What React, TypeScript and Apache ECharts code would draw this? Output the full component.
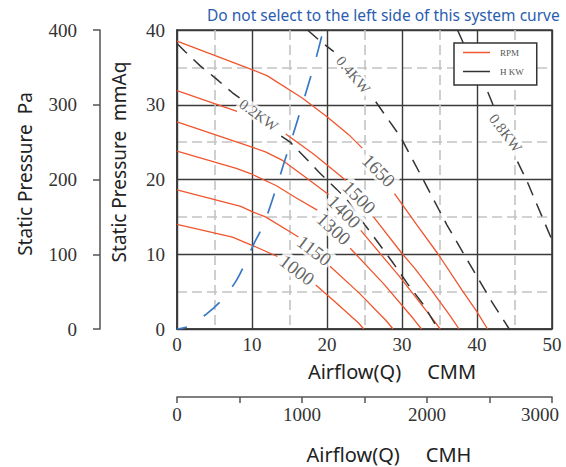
import React, { useEffect, useRef } from "react";
import * as echarts from "echarts";

// ---- data (x: CMM, y: mmAq); null marks a break in the drawn line ----
const rpmNames = ["1650", "1500", "1400", "1300", "1150", "1000"];
const rpm1650 = [[0, 38.5], [10, 34.7], [12, 33.9], [16.7, 30.9], [20, 28.4], [22.9, 26.0], [24.7, 24.2], null, [29.0, 18.1], [32, 13.9], [34.9, 9.9], [38, 5.2], [40, 2.3], [41.4, 0]];
const rpm1500 = [[0, 31.9], [8.0, 29.1], null, [14.5, 26.1], [18.2, 23.4], [22.5, 19.9], null, [26.2, 15.0], [30, 10.1], [31.7, 8.1], [34, 5.1], [36.4, 1.8], [37.6, 0]];
const rpm1400 = [[0, 27.7], [9.8, 24.4], [11.8, 23.7], [14.0, 22.6], [17.0, 20.4], [20.2, 18.0], null, [24.5, 13.2], [29.6, 7.1], [33.9, 1.6], [35.1, 0]];
const rpm1300 = [[0, 23.8], [7.9, 21.5], [9.8, 20.8], [13.2, 19.2], [15.8, 17.6], [18.7, 15.9], null, [23.1, 10.8], [27.5, 6.1], [31.5, 1.4], [32.6, 0]];
const rpm1150 = [[0, 18.6], [8.5, 16.4], [10, 15.7], [11.8, 15.0], [16.2, 12.3], null, [20.4, 8.4], [24.3, 4.8], [27.9, 1.1], [28.8, 0]];
const rpm1000 = [[0, 14.0], [7.4, 12.3], [10, 11.2], [13.4, 9.7], null, [18.5, 5.9], [21.1, 3.6], [24.2, 0.8], [24.9, 0]];
const rpmCurves = [rpm1650, rpm1500, rpm1400, rpm1300, rpm1150, rpm1000];
const rpmLabelAt = [[26.9, 21.2], [24.3, 17.6], [22.3, 15.7], [20.9, 13.4], [18.3, 10.5], [16.0, 7.9]];
const rpmLabelAngle = [-45, -45, -45, -42, -37, -37];

const kwNames = ["0.2KW", "0.4KW", "0.8KW"];
const kw02 = [[0, 38.2], [1.1, 37.1], [3.1, 35.2], [5.2, 33.5], [7.4, 31.6], [8.5, 30.8], null, [13.9, 25.8], [15.1, 25.0], [17.6, 22.4], [18.9, 21.0], [22.5, 17.5], [25.0, 14.0], [28.7, 9.0], [30.7, 6.1], [32.9, 3.2], [34.8, 0]];
const kw04 = [[17.4, 40], [19.0, 38.6], [20.9, 37.1], null, [26.5, 30.4], [29.8, 25.7], [32.5, 20.6], [36.0, 13.9], [39.6, 7.7], [42.0, 3.6], [44.3, 0]];
const kw08 = [[37.4, 40], [38.2, 38.2], [41.4, 31.8], [42.3, 29.6], null, [45.4, 22.4], [46.7, 19.7], [50, 11.9]];
const kwCurves = [kw02, kw04, kw08];
const kwLabelAt = [[10.9, 28.6], [23.5, 34.0], [43.8, 26.2]];
const kwLabelAngle = [-36, -50, -53];

const systemCurve = [[0, 0], [1.4, 0.3], [3.8, 1.9], [6.0, 3.9], [7.8, 6.3], [9.1, 8.8], [10.2, 11.3], [11.6, 14.1], [13.4, 19.4], [14.2, 22.0], [15.1, 24.8], [16.7, 30.0], [18.5, 36.1], [19.6, 40.4]];

const cmmRange = [0, 50];
const mmAqRange = [0, 40];
const cmhRange = [0, 3000];
const paRange = [0, 400];

const titleText = "Do not select to the left side of this system curve";
const xNameCMM = "Airflow(Q)     CMM";
const xNameCMH = "Airflow(Q)     CMH";
const yNamePa = "Static Pressure  Pa";
const yNameMmAq = "Static Pressure  mmAq";

// ---- helpers ----
function segments(pts: (number[] | null)[]) {
  const out: number[][][] = [[]];
  for (const p of pts) {
    if (p === null) out.push([]);
    else out[out.length - 1].push(p);
  }
  return out.filter((s) => s.length > 1);
}

const SERIF = "Liberation Serif";
const SANS = "Noto Sans";
const ORANGE = "#f0552d";
const DARK = "#333333";

export default function App() {
  const ref = useRef<HTMLDivElement>(null);

  useEffect(() => {
    if (!ref.current) return;
    const chart = echarts.init(ref.current, null, { renderer: "svg" });

    const series: any[] = [];
    rpmCurves.forEach((c) => {
      segments(c).forEach((seg) => {
        series.push({
          type: "line", name: "RPM", xAxisIndex: 0, yAxisIndex: 0,
          data: seg, symbol: "none", silent: true, z: 3,
          color: ORANGE,
          lineStyle: { color: ORANGE, width: 1.3 },
        });
      });
    });
    kwCurves.forEach((c) => {
      segments(c).forEach((seg) => {
        series.push({
          type: "line", name: "H KW", xAxisIndex: 0, yAxisIndex: 0,
          data: seg, symbol: "none", silent: true, z: 3,
          color: DARK,
          lineStyle: { color: DARK, width: 1.5, type: [14, 9] },
        });
      });
    });
    series.push({
      type: "line", name: "system", xAxisIndex: 0, yAxisIndex: 0,
      data: systemCurve, symbol: "none", silent: true, z: 3, smooth: 0.3,
      color: "#3a78c6",
      lineStyle: { color: "#3a78c6", width: 1.7, type: [21, 20], dashOffset: 11 },
    });

    const labelStyle = (size: number) => ({
      show: true, position: "inside", fontFamily: SERIF, fontSize: size,
      color: "#3a3a3a", backgroundColor: "#ffffff", padding: [0, 2],
    });
    series.push({
      type: "scatter", name: "rpmLabels", xAxisIndex: 0, yAxisIndex: 0,
      symbolSize: 0.1, silent: true, z: 10,
      itemStyle: { color: "rgba(0,0,0,0)" },
      data: rpmNames.map((n, i) => ({
        value: rpmLabelAt[i],
        label: { ...labelStyle(19), formatter: n, rotate: rpmLabelAngle[i] },
      })),
    });
    series.push({
      type: "scatter", name: "kwLabels", xAxisIndex: 0, yAxisIndex: 0,
      symbolSize: 0.1, silent: true, z: 10,
      itemStyle: { color: "rgba(0,0,0,0)" },
      data: kwNames.map((n, i) => ({
        value: kwLabelAt[i],
        label: { ...labelStyle(15), formatter: n, rotate: kwLabelAngle[i] },
      })),
    });

    const tickFont = { fontFamily: SERIF, fontSize: 19, color: DARK };

    chart.setOption({
      animation: false,
      textStyle: { fontFamily: SERIF },
      grid: [
        { left: 177, top: 30, width: 375, height: 299, show: true, borderColor: "#3a3a3a", borderWidth: 1.6, backgroundColor: "transparent" },
        { left: 177, top: 396, width: 375, height: 1 },
        { left: 100, top: 30, width: 1, height: 299 },
      ],
      xAxis: [
        {
          type: "value", gridIndex: 0, min: cmmRange[0], max: cmmRange[1], interval: 10,
          axisLine: { show: true, lineStyle: { color: "#3a3a3a", width: 1.6 } },
          axisTick: { show: false },
          axisLabel: { ...tickFont, margin: 6 },
          splitLine: { show: true, lineStyle: { color: "#3a3a3a", width: 1.4 } },
          minorTick: { show: false, splitNumber: 2 },
          minorSplitLine: { show: true, lineStyle: { color: "#c4c4c4", width: 1.6, type: [10, 5] } },
        },
        {
          type: "value", gridIndex: 1, min: cmhRange[0], max: cmhRange[1], interval: 500,
          position: "bottom",
          axisLine: { show: true, lineStyle: { color: "#555", width: 1.5 } },
          axisTick: { show: true, length: 6, lineStyle: { color: "#555", width: 1.5 } },
          axisLabel: {
            ...tickFont, margin: 8,
            formatter: (v: number) => (v % 1000 === 0 ? (v === cmhRange[1] ? `{r|${v}}` : String(v)) : ""),
            rich: { r: { fontFamily: SERIF, fontSize: 19, color: DARK, padding: [0, 24, 0, 0] } },
          },
          splitLine: { show: false },
        },
        { type: "value", gridIndex: 2, min: 0, max: 1, show: false },
      ],
      yAxis: [
        {
          type: "value", gridIndex: 0, min: mmAqRange[0], max: mmAqRange[1], interval: 10,
          axisLine: { show: true, lineStyle: { color: "#3a3a3a", width: 1.6 } },
          axisTick: { show: false },
          axisLabel: { ...tickFont, margin: 12 },
          splitLine: { show: true, lineStyle: { color: "#3a3a3a", width: 1.4 } },
          minorTick: { show: false, splitNumber: 2 },
          minorSplitLine: { show: true, lineStyle: { color: "#c4c4c4", width: 1.6, type: [10, 5] } },
        },
        { type: "value", gridIndex: 1, min: 0, max: 1, show: false },
        {
          type: "value", gridIndex: 2, min: paRange[0], max: paRange[1], interval: 100,
          position: "left",
          axisLine: { show: true, lineStyle: { color: "#555", width: 1.5 } },
          axisTick: { show: true, length: 7, lineStyle: { color: "#555", width: 1.5 } },
          axisLabel: { ...tickFont, margin: 23 },
          splitLine: { show: false },
        },
      ],
      legend: {
        data: [{ name: "RPM", icon: "rect" }, { name: "H KW", icon: "rect" }],
        orient: "vertical", left: 454, top: 43,
        itemWidth: 27, itemHeight: 1.5, itemGap: 10,
        padding: [5, 13, 9, 9],
        backgroundColor: "#ffffff", borderColor: "#333", borderWidth: 1.5,
        textStyle: { fontFamily: SERIF, fontSize: 9, color: "#555", padding: [0, 0, 0, 5] },
        selectedMode: false,
      },
      graphic: [
        { type: "text", x: 207, y: 15, style: { text: titleText, fill: "#2a5db0", fontFamily: SANS, fontSize: 15.5, textAlign: "left", textVerticalAlign: "middle" } },
        { type: "text", x: 392, y: 371, style: { text: xNameCMM, fill: "#222", fontFamily: SANS, fontSize: 20, textAlign: "center", textVerticalAlign: "middle" } },
        { type: "text", x: 389, y: 454, style: { text: xNameCMH, fill: "#222", fontFamily: SANS, fontSize: 20, textAlign: "center", textVerticalAlign: "middle" } },
        { type: "text", x: 25, y: 174, rotation: Math.PI / 2, style: { text: yNamePa, fill: "#222", fontFamily: SANS, fontSize: 19, textAlign: "center", textVerticalAlign: "middle" } },
        { type: "text", x: 119, y: 162, rotation: Math.PI / 2, style: { text: yNameMmAq, fill: "#222", fontFamily: SANS, fontSize: 19, textAlign: "center", textVerticalAlign: "middle" } },
      ],
      series,
    });

    return () => chart.dispose();
  }, []);

  return <div ref={ref} style={{ position: "fixed", left: 0, top: 0, width: 566, height: 467, background: "#fff" }} />;
}
